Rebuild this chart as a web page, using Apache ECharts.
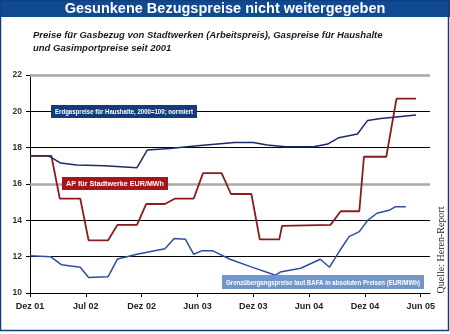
<!DOCTYPE html>
<html><head><meta charset="utf-8">
<script src="https://cdn.jsdelivr.net/npm/echarts@6/dist/echarts.min.js"></script>
<style>html,body{margin:0;padding:0;background:#fff}#c{width:450px;height:334px}</style>
</head><body><div id="c"></div>
<script>
// x values are months since Dez 01
const tickMonths = [0, 6, 12, 18, 24, 30, 36, 42];
const tickLabels = ['Dez 01', 'Jul 02', 'Dez 02', 'Jun 03', 'Dez 03', 'Jun 04', 'Dez 04', 'Jun 05'];
const haushalte = [[0,17.55],[2,17.55],[3.3,17.15],[5,17.05],[8,17.0],[11.5,16.9],[12.6,17.87],[15,17.95],[18,18.1],[22,18.28],[24,18.28],[25.5,18.15],[27.5,18.05],[30.5,18.05],[32,18.2],[33.2,18.55],[35.2,18.75],[36.3,19.5],[37.7,19.6],[39.1,19.67],[41.5,19.8]];
const stadtwerke = [[0,17.55],[2.3,17.55],[3.2,15.2],[5.4,15.2],[6.3,12.9],[8.4,12.9],[9.4,13.75],[11.5,13.75],[12.5,14.9],[14.5,14.9],[15.6,15.2],[17.6,15.2],[18.6,16.6],[20.6,16.6],[21.6,15.45],[23.8,15.45],[24.7,12.95],[26.8,12.95],[27.1,13.7],[32.3,13.75],[33.4,14.5],[35.4,14.5],[35.9,17.5],[38.3,17.5],[39.4,20.7],[41.5,20.7]];
const grenz = [[0,12.05],[2.2,12.0],[3.4,11.55],[5.4,11.42],[6.3,10.85],[8.4,10.9],[9.4,11.87],[10.2,11.97],[11.5,12.13],[14.5,12.44],[15.5,13.0],[16.7,12.96],[17.6,12.13],[18.5,12.33],[19.6,12.33],[21.5,11.86],[23.7,11.45],[26.4,10.98],[26.9,11.15],[29.1,11.36],[31.2,11.86],[32.2,11.42],[33.4,12.41],[34.3,13.1],[35.4,13.38],[36.3,14.0],[37.3,14.39],[38.6,14.55],[39.3,14.75],[40.4,14.75]];
const grayLines = [16, 22];

const chart = echarts.init(document.getElementById('c'));
const boxFontStr = 'bold 8px "Liberation Sans", Arial, sans-serif';
const measureCtx = document.createElement('canvas').getContext('2d');
measureCtx.font = boxFontStr;
function box(x, y, w, h, fill, text) {
  const tw = measureCtx.measureText(text).width;
  const sx = Math.min(1, (w - 8) / tw);
  return [
    { type: 'rect', z: 100, silent: true, shape: { x: x, y: y, width: w, height: h }, style: { fill: fill } },
    { type: 'text', z: 101, silent: true, x: x + w / 2, y: y + h / 2 + 0.5, scaleX: sx, style: { text: text, fill: '#fff', font: boxFontStr, align: 'center', verticalAlign: 'middle' } }
  ];
}
chart.setOption({
  animation: false,
  backgroundColor: '#fff',
  grid: { left: 30, right: 20, top: 75, bottom: 41 },
  xAxis: {
    type: 'value', min: 0, max: 43,
    axisLine: { show: true, lineStyle: { color: '#000', width: 1 } },
    axisTick: { show: true, customValues: tickMonths, length: 4, lineStyle: { color: '#000' } },
    axisLabel: { customValues: tickMonths, formatter: v => tickLabels[tickMonths.indexOf(v)] || '', color: '#222', fontWeight: 'bold', fontSize: 9, fontFamily: 'Liberation Sans, Arial', margin: 9 },
    splitLine: { show: false }
  },
  yAxis: {
    type: 'value', min: 10, max: 22, interval: 2,
    axisLine: { show: true, lineStyle: { color: '#000', width: 1 } },
    axisTick: { show: true, length: 4, lineStyle: { color: '#000' } },
    axisLabel: { color: '#333', fontWeight: 'bold', fontSize: 8.5, fontFamily: 'Liberation Sans, Arial', margin: 8 },
    splitLine: { show: true, lineStyle: { color: '#000', width: 1 } }
  },
  series: [
    { type: 'line', data: grenz, symbol: 'none', lineStyle: { color: '#2c4f9e', width: 1.5 }, z: 3,
      markLine: { silent: true, symbol: 'none', label: { show: false }, lineStyle: { color: '#a8a8a8', width: 2.5, type: 'solid' }, data: grayLines.map(v => ({ yAxis: v })), z: 1 } },
    { type: 'line', data: stadtwerke, symbol: 'none', lineStyle: { color: '#8e1a1e', width: 1.8 }, z: 4 },
    { type: 'line', data: haushalte, symbol: 'none', lineStyle: { color: '#1c2a6a', width: 1.5 }, z: 5 }
  ],
  graphic: [
    { type: 'rect', shape: { x: 0, y: 0, width: 450, height: 17 }, style: { fill: '#0f4a92' }, silent: true },
    { type: 'rect', shape: { x: 0.5, y: 0.5, width: 448, height: 330 }, style: { fill: null, stroke: '#11407e', lineWidth: 1.5 }, silent: true },
    { type: 'text', x: 225, y: 9, style: { text: 'Gesunkene Bezugspreise nicht weitergegeben', fill: '#fff', font: 'bold 14.5px "Liberation Sans", Arial, sans-serif', align: 'center', verticalAlign: 'middle' }, silent: true },
    { type: 'text', x: 33, y: 28.5, style: { text: 'Preise für Gasbezug von Stadtwerken (Arbeitspreis), Gaspreise für Haushalte\nund Gasimportpreise seit 2001', fill: '#1a1a1a', font: 'italic bold 9.5px "Liberation Sans", Arial, sans-serif', lineHeight: 13 }, silent: true },
    ...box(51, 105, 146, 13, '#143c7c', 'Erdgaspreise für Haushalte, 2000=100; normiert'),
    ...box(62, 177, 106, 13, '#a8141c', 'AP für Stadtwerke EUR/MWh'),
    ...box(222, 275, 202, 14, '#7196cc', 'Grenzübergangspreise laut BAFA in absoluten Preisen (EUR/MWh)'),
    { type: 'text', x: 441, y: 250, rotation: Math.PI / 2, style: { text: 'Quelle: Heren-Report', fill: '#222', font: '10px "Liberation Serif", "Times New Roman", serif', align: 'center', verticalAlign: 'middle' }, silent: true }
  ]
});
</script></body></html>
